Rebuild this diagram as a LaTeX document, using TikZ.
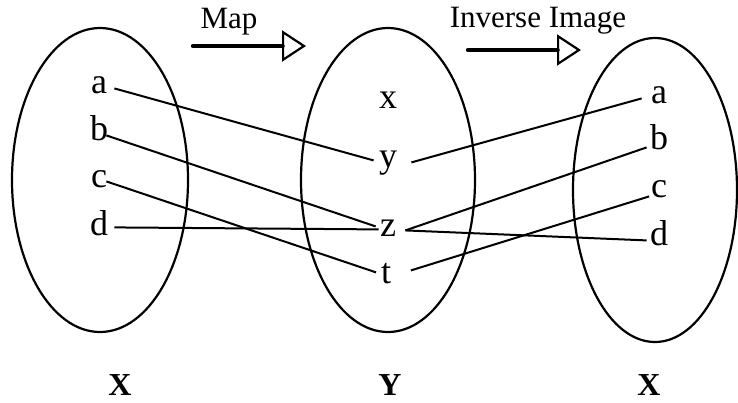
\documentclass[tikz,border=0pt]{standalone}
\usepackage{fontspec}
\setmainfont{Liberation Serif}
\usetikzlibrary{arrows.meta, positioning}
\tikzset{
  lbl/.style = {inner sep=1pt, anchor=base, font=\fontsize{18}{20}\selectfont},
  setlbl/.style = {inner sep=1pt, anchor=base, font=\fontsize{16}{18}\selectfont\bfseries},
  captxt/.style = {inner sep=1pt, anchor=base, font=\fontsize{15.5}{17}\selectfont},
  set/.style = {draw, line width=1.1pt},
  lnk/.style = {line width=1pt},
  arr/.style = {line width=2.2pt, line cap=round, -{Triangle[open, length=12pt, width=15.5pt, line width=1.1pt]}}
}

\begin{document}
\begin{tikzpicture}[x=0.5pt, y=-0.5pt]
\useasboundingbox (0,0) rectangle (738,402);

% ----- SETS -----
\draw[set] (100,180) ellipse [x radius=88, y radius=152];
\draw[set] (388,180) ellipse [x radius=87, y radius=152];
\draw[set] (655,190) ellipse [x radius=82, y radius=152];

% Left X
\node[lbl] (la) at (99,93) {a};
\node[lbl] (lb) at (99,140) {b};
\node[lbl] (lc) at (99,187) {c};
\node[lbl] (ld) at (99,235) {d};

% Middle Y
\node[lbl] (mx) at (388,108) {x};
\node[lbl] (my) at (388,167) {y};
\node[lbl] (mz) at (388,236) {z};
\node[lbl] (mt) at (386,283) {t};

% Right X
\node[lbl] (ra) at (659,103) {a};
\node[lbl] (rb) at (659,149) {b};
\node[lbl] (rc) at (659,197) {c};
\node[lbl] (rd) at (659,245) {d};

% Set names
\node[setlbl] (nx1) at (120,395) {X};
\node[setlbl] (ny) at (390,395) {Y};
\node[setlbl] (nx2) at (649,395) {X};

% Captions
\node[captxt] (tmap) at (229,28) {Map};
\node[captxt] (tinv) at (538,27) {Inverse Image};
\coordinate (m0) at (193,46);
\coordinate (m1) at (306,46);
\coordinate (i0) at (468,50);
\coordinate (i1) at (581,50);
\draw[arr] (m0) -- (m1);
\draw[arr] (i0) -- (i1);

% ----- LINKS -----
% X -> Y
\draw[lnk] ([xshift=2.5pt]la.mid east) -- ([xshift=-1.5pt,yshift=1pt]my.mid west);
\draw[lnk] ([xshift=-2pt]lb.mid east) -- ([xshift=-1pt,yshift=2.5pt]mz.mid west);
\draw[lnk] ([xshift=-1.5pt,yshift=0.5pt]lc.mid east) -- ([xshift=-1.25pt,yshift=3pt]mt.mid west);
\draw[lnk] ([xshift=2pt,yshift=1.5pt]ld.mid east) -- ([xshift=0.5pt,yshift=1pt]mz.mid west);
% Y -> X
\draw[lnk] ([xshift=6pt]my.mid east) -- ([xshift=-3.5pt]ra.mid west);
\draw[lnk] ([xshift=3.5pt,yshift=0.5pt]mz.mid east) -- ([xshift=-0.5pt,yshift=-1.5pt]rb.mid west);
\draw[lnk] ([xshift=8.75pt,yshift=4pt]mt.mid east) -- ([xshift=0.25pt,yshift=-2pt]rc.mid west);
\draw[lnk] ([xshift=3.5pt,yshift=0.5pt]mz.mid east) -- ([xshift=-0.5pt]rd.mid west);

\end{tikzpicture}
\end{document}
